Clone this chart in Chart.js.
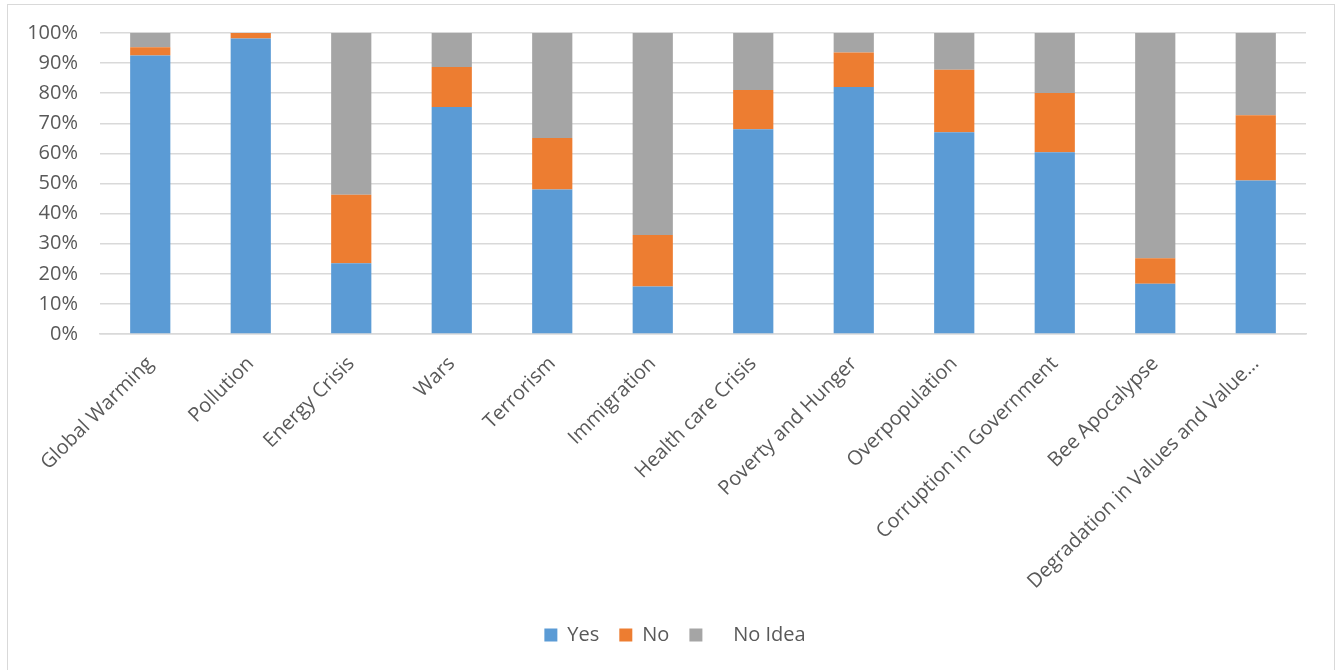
<!DOCTYPE html>
<html>
<head>
<meta charset="utf-8">
<script src="https://cdn.jsdelivr.net/npm/chart.js@4/dist/chart.umd.min.js"></script>
<style>
  html, body { margin: 0; padding: 0; background: #fff; overflow: hidden; }
  #frame {
    position: absolute; left: 7px; top: 4px; width: 1326px; height: 666px;
    border: 1px solid #d9d9d9; border-bottom: none;
  }
  #wrap { position: absolute; left: 0; top: 0; width: 1326px; height: 666px; }
</style>
</head>
<body>
<div id="frame"><div id="wrap"><canvas id="myChart"></canvas></div></div>
<script>
var categories = ['Global Warming', 'Pollution', 'Energy Crisis', 'Wars', 'Terrorism', 'Immigration',
  'Health care Crisis', 'Poverty and Hunger', 'Overpopulation', 'Corruption in Government',
  'Bee Apocalypse', 'Degradation in Values and Value\u2026'];
var yesValues = [92.5, 98.2, 23.5, 75.4, 48.0, 15.8, 68.0, 82.1, 67.0, 60.4, 16.7, 51.0];
var noValues = [2.8, 1.8, 22.8, 13.3, 17.1, 17.1, 13.1, 11.4, 20.8, 19.7, 8.5, 21.7];
var noIdeaValues = [4.7, 0, 53.7, 11.3, 34.9, 67.1, 18.9, 6.5, 12.2, 19.9, 74.8, 27.3];
var yTicks = [0, 10, 20, 30, 40, 50, 60, 70, 80, 90, 100];

var fontFamily = '"Open Sans", sans-serif';
var textColor = '#595959';

var ctx = document.getElementById('myChart').getContext('2d');
var myNewChart = new Chart(ctx, {
  type: 'bar',
  data: {
    labels: categories,
    datasets: [
      { label: 'Yes', data: yesValues, backgroundColor: '#5b9bd5' },
      { label: 'No', data: noValues, backgroundColor: '#ed7d31' },
      { label: '    No Idea', data: noIdeaValues, backgroundColor: '#a5a5a5' }
    ]
  },
  options: {
    responsive: true,
    maintainAspectRatio: false,
    animation: false,
    layout: { padding: { left: 8, right: 0, top: 28, bottom: 16 } },
    datasets: { bar: { categoryPercentage: 1.0, barPercentage: 0.4 } },
    plugins: {
      tooltip: { enabled: false },
      legend: {
        position: 'bottom',
        labels: {
          color: textColor,
          font: { family: fontFamily, size: 20 },
          boxWidth: 13,
          boxHeight: 13,
          padding: 20
        }
      }
    },
    scales: {
      x: {
        stacked: true,
        grid: { display: false, drawTicks: false },
        border: { color: '#d9d9d9', width: 1.5 },
        ticks: {
          color: textColor,
          font: { family: fontFamily, size: 20 },
          autoSkip: false,
          maxRotation: 45,
          minRotation: 45,
          padding: 18
        },
        afterFit: function (scale) {
          scale.height = 271;
          scale.paddingRight = 28;
        }
      },
      y: {
        stacked: true,
        min: 0,
        max: 100,
        afterBuildTicks: function (scale) {
          scale.ticks = yTicks.map(function (v) { return { value: v }; });
        },
        grid: { color: '#d9d9d9', lineWidth: 1.5, drawTicks: false },
        border: { display: false },
        ticks: {
          color: textColor,
          font: { family: fontFamily, size: 20 },
          padding: 22,
          callback: function (v) { return v + '%'; }
        },
        afterFit: function (scale) {
          scale.width = 84;
          scale.paddingTop = 0;
          scale.paddingBottom = 0;
        }
      }
    }
  }
});
</script>
</body>
</html>
